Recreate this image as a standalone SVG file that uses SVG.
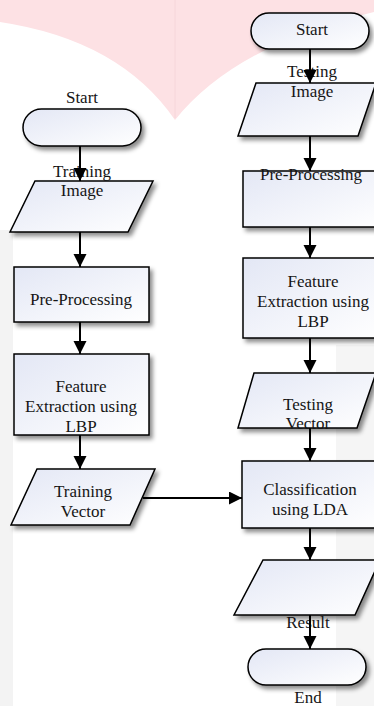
<svg xmlns="http://www.w3.org/2000/svg" width="374" height="706" viewBox="0 0 374 706">
<style>
.shape{fill:url(#g);stroke:#000;stroke-width:1.5;filter:url(#sh)}
.t{font-family:'Liberation Serif','Times New Roman','DejaVu Serif',serif;font-size:17px;fill:#151515;text-anchor:middle}
.c{fill:none;stroke:#000;stroke-width:2;marker-end:url(#ah)}
</style>
<defs>
<linearGradient id="g" x1="0" y1="0" x2="1" y2="1">
<stop offset="0" stop-color="#e3e7f5"/>
<stop offset="1" stop-color="#ffffff"/>
</linearGradient>
<filter id="sh" x="-20%" y="-20%" width="150%" height="160%">
<feDropShadow dx="3" dy="3.5" stdDeviation="2" flood-color="#000" flood-opacity="0.45"/>
</filter>
<marker id="ah" markerUnits="userSpaceOnUse" markerWidth="14" markerHeight="14" refX="13" refY="6.5" orient="auto">
<path d="M0,0 L13,6.5 L0,13 Z" fill="#000"/>
</marker>
</defs>
<g id="background">
<rect width="374" height="706" fill="#fff"/>
<path d="M0,0 H374 V12 Q235,45 175,120 Q120,40 0,22 Z" fill="#fde1e4"/>
<line x1="175" y1="0" x2="175" y2="118" stroke="#f6d6da" stroke-width="1"/>
<rect x="0" y="230" width="13" height="476" fill="#f3f3f3"/>
<rect x="336" y="345" width="38" height="361" fill="#f5f5f5"/>
</g>
<g font-family="Liberation Serif, Times New Roman, serif">
<g id="start-left">
<rect class="shape" x="23" y="109" width="118" height="37" rx="18.5"/>
<text class="t" x="82" y="103">Start</text>
</g>
<g id="training-image">
<path class="shape" d="M35,181 H153 L128,232 H10 Z"/>
<text class="t" x="82" y="177">Training</text>
<text class="t" x="82" y="196">Image</text>
</g>
<g id="preprocessing-left">
<rect class="shape" x="14" y="267" width="135" height="55"/>
<text class="t" x="81" y="305">Pre-Processing</text>
</g>
<g id="feature-left">
<rect class="shape" x="14" y="354" width="135" height="81"/>
<text class="t" x="81" y="392">Feature</text>
<text class="t" x="81" y="412">Extraction using</text>
<text class="t" x="81" y="432">LBP</text>
</g>
<g id="training-vector">
<path class="shape" d="M37,469 H155 L130,525 H11 Z"/>
<text class="t" x="83" y="497">Training</text>
<text class="t" x="83" y="517">Vector</text>
</g>
<g id="start-right">
<rect class="shape" x="251" y="13" width="118" height="36" rx="18"/>
<text class="t" x="312" y="35">Start</text>
</g>
<g id="testing-image">
<path class="shape" d="M256,83 H376 L358,136 H238 Z"/>
<text class="t" x="312" y="77">Testing</text>
<text class="t" x="312" y="97">Image</text>
</g>
<g id="preprocessing-right">
<rect class="shape" x="243" y="171" width="140" height="56"/>
<text class="t" x="311" y="180">Pre-Processing</text>
</g>
<g id="feature-right">
<rect class="shape" x="243" y="258" width="140" height="80"/>
<text class="t" x="313" y="287">Feature</text>
<text class="t" x="313" y="307">Extraction using</text>
<text class="t" x="313" y="327">LBP</text>
</g>
<g id="testing-vector">
<path class="shape" d="M254,373 H376 L357,428 H238 Z"/>
<text class="t" x="308" y="410">Testing</text>
<text class="t" x="308" y="429">Vector</text>
</g>
<g id="classification">
<rect class="shape" x="242" y="461" width="140" height="67"/>
<text class="t" x="310" y="495">Classification</text>
<text class="t" x="310" y="515">using LDA</text>
</g>
<g id="result">
<path class="shape" d="M263,560 H380 L355,615 H234 Z"/>
<text class="t" x="308" y="628">Result</text>
</g>
<g id="end">
<rect class="shape" x="248" y="649" width="118" height="36" rx="18"/>
<text class="t" x="308" y="703">End</text>
</g>
</g>
<g id="connectors">
<line class="c" x1="80" y1="146" x2="80" y2="181"/>
<line class="c" x1="80" y1="232" x2="80" y2="267"/>
<line class="c" x1="80" y1="322" x2="80" y2="354"/>
<line class="c" x1="80" y1="435" x2="80" y2="469"/>
<line class="c" x1="143" y1="498" x2="242" y2="498"/>
<line class="c" x1="310" y1="49" x2="310" y2="83"/>
<line class="c" x1="310" y1="136" x2="310" y2="171"/>
<line class="c" x1="310" y1="227" x2="310" y2="258"/>
<line class="c" x1="310" y1="338" x2="310" y2="373"/>
<line class="c" x1="310" y1="428" x2="310" y2="461"/>
<line class="c" x1="310" y1="528" x2="310" y2="560"/>
<line class="c" x1="310" y1="615" x2="310" y2="649"/>
</g>
</svg>
